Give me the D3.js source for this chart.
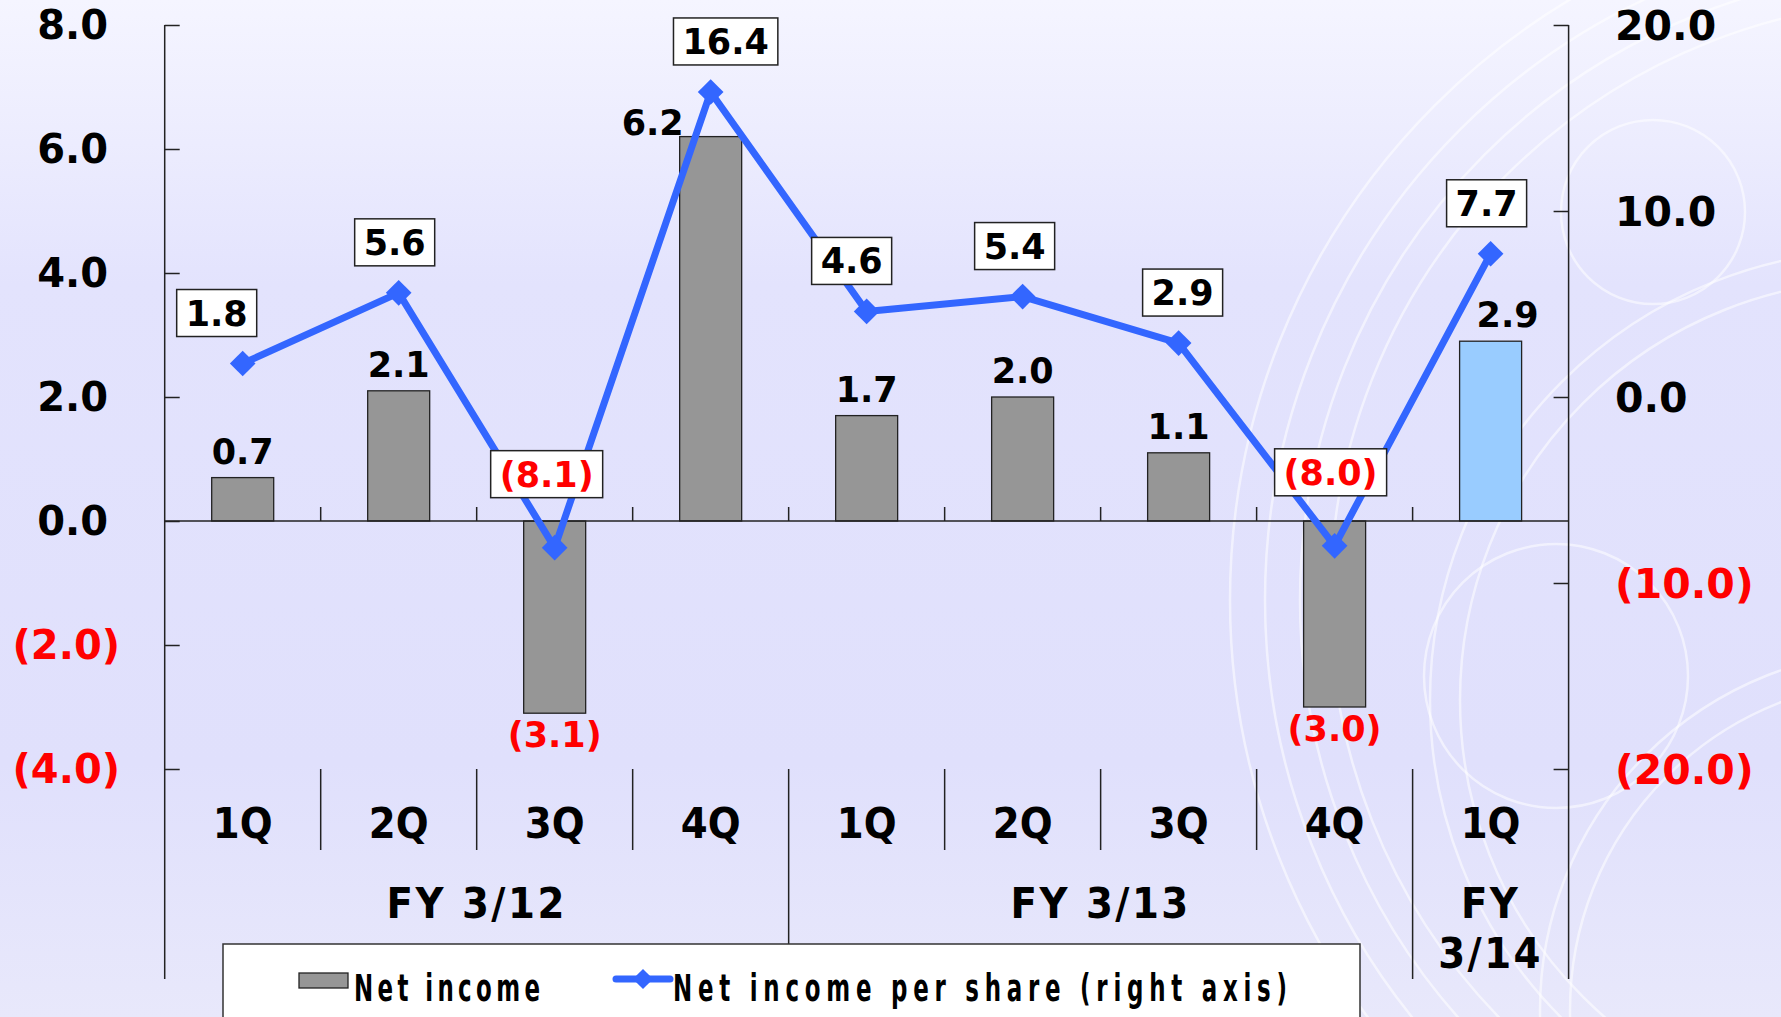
<!DOCTYPE html>
<html lang="en">
<head>
<meta charset="UTF-8"/>
<title>Net income and net income per share</title>
<script src="https://d3js.org/d3.v7.min.js"></script>
<style>
  body { margin: 0; overflow: hidden; }
  svg { display: block; }
</style>
</head>
<body>
<script>
    // quarters and fiscal years
    var quarters = ["1Q", "2Q", "3Q", "4Q", "1Q", "2Q", "3Q", "4Q", "1Q"];
    var fiscalYears = [
        { label: ["FY 3/12"], first: 0, last: 3 },
        { label: ["FY 3/13"], first: 4, last: 7 },
        { label: ["FY", "3/14"], first: 8, last: 8 }
    ];

    // net income (left axis) and net income per share (right axis)
    var netIncome = [0.7, 2.1, -3.1, 6.2, 1.7, 2.0, 1.1, -3.0, 2.9];
    var netIncomePerShare = [1.8, 5.6, -8.1, 16.4, 4.6, 5.4, 2.9, -8.0, 7.7];

    var leftTicks = [-4, -2, 0, 2, 4, 6, 8];
    var rightTicks = [-20, -10, 0, 10, 20];

    var w = 1781, h = 1017;
    var plotL = 164.7, plotR = 1568.6, plotT = 25, plotB = 769;

    var fmt = function(v) {
        var s = Math.abs(v).toFixed(1);
        return v < 0 ? "(" + s + ")" : s;
    };
    var ink = function(v) { return v < 0 ? "#ff0000" : "#000"; };

    var svg = d3.select("body").append("svg")
        .attr("width", w)
        .attr("height", h);

    // background
    var defs = svg.append("defs");
    var grad = defs.append("linearGradient")
        .attr("id", "bg").attr("x1", 0).attr("y1", 0).attr("x2", 0).attr("y2", 1);
    grad.append("stop").attr("offset", "0%").attr("stop-color", "#f5f5ff");
    grad.append("stop").attr("offset", "28%").attr("stop-color", "#e3e3fd");
    grad.append("stop").attr("offset", "75%").attr("stop-color", "#e0e0fc");
    grad.append("stop").attr("offset", "100%").attr("stop-color", "#e8e8fb");
    svg.append("rect").attr("width", w).attr("height", h).attr("fill", "url(#bg)");

    // faint decorative rings on the right
    var rings = [
        [1930, 600, 600], [1930, 600, 630], [1930, 600, 665], [1930, 600, 700],
        [1653, 212, 92], [1556, 676, 132], [1880, 700, 420], [1880, 700, 450],
        [1900, 1010, 330], [1900, 1010, 360]
    ];
    svg.append("g").selectAll("circle")
        .data(rings)
        .enter()
        .append("circle")
        .attr("cx", function(d) { return d[0]; })
        .attr("cy", function(d) { return d[1]; })
        .attr("r", function(d) { return d[2]; })
        .attr("fill", "none")
        .attr("stroke", "#ffffff")
        .attr("stroke-opacity", 0.55)
        .attr("stroke-width", 2.5);

    // scales
    var xScale = d3.scaleBand()
        .domain(d3.range(quarters.length))
        .range([plotL, plotR])
        .paddingInner(0).paddingOuter(0);
    var step = xScale.step();
    var cx = function(i) { return xScale(i) + step / 2; };

    var yLeft = d3.scaleLinear().domain([-4, 8]).range([plotB, plotT]);
    var yRight = d3.scaleLinear().domain([-20, 20]).range([plotB, plotT]);

    var axisInk = "#222";
    var numFont = "DejaVu Sans, Verdana, sans-serif";

    // left axis
    var leftAxis = d3.axisLeft(yLeft)
        .tickValues(leftTicks)
        .tickSize(-15)
        .tickFormat("");
    svg.append("g")
        .attr("transform", "translate(" + plotL + ",0)")
        .call(leftAxis)
        .call(function(g) {
            g.select(".domain").remove();
            g.selectAll("line").attr("stroke", axisInk).attr("stroke-width", 1.5);
        });

    svg.append("g").selectAll("text")
        .data(leftTicks)
        .enter()
        .append("text")
        .attr("x", function(d) { return d < 0 ? 120 : 108; })
        .attr("y", function(d) { return yLeft(d); })
        .attr("dy", "0.36em")
        .attr("text-anchor", "end")
        .attr("font-family", numFont)
        .attr("font-weight", "bold")
        .attr("font-size", "40px")
        .attr("fill", ink)
        .text(fmt);

    // right axis
    var rightAxis = d3.axisRight(yRight)
        .tickValues(rightTicks)
        .tickSize(-15)
        .tickFormat("");
    svg.append("g")
        .attr("transform", "translate(" + plotR + ",0)")
        .call(rightAxis)
        .call(function(g) {
            g.select(".domain").remove();
            g.selectAll("line").attr("stroke", axisInk).attr("stroke-width", 1.5);
        });

    svg.append("g").selectAll("text")
        .data(rightTicks)
        .enter()
        .append("text")
        .attr("x", 1615)
        .attr("y", function(d) { return yRight(d); })
        .attr("dy", "0.36em")
        .attr("text-anchor", "start")
        .attr("font-family", numFont)
        .attr("font-weight", "bold")
        .attr("font-size", "41px")
        .attr("fill", ink)
        .text(fmt);

    // axis lines, run down through the category area
    var y0 = yLeft(0);
    var lines = svg.append("g").attr("stroke", axisInk).attr("stroke-width", 1.5);
    lines.append("line").attr("x1", plotL).attr("x2", plotL).attr("y1", plotT).attr("y2", 979);
    lines.append("line").attr("x1", plotR).attr("x2", plotR).attr("y1", plotT).attr("y2", 979);

    // separators between quarters: short ticks on the zero line and dividers below
    d3.range(1, quarters.length).forEach(function(i) {
        var x = xScale(i);
        lines.append("line").attr("x1", x).attr("x2", x).attr("y1", y0).attr("y2", y0 - 14);
        var yEnd = 850;
        if (i === 4) yEnd = 944;
        if (i === 8) yEnd = 979;
        lines.append("line").attr("x1", x).attr("x2", x).attr("y1", plotB).attr("y2", yEnd);
    });

    // bars
    var barW = 62;
    svg.append("g").selectAll("rect")
        .data(netIncome)
        .enter()
        .append("rect")
        .attr("x", function(d, i) { return cx(i) - barW / 2; })
        .attr("y", function(d) { return yLeft(Math.max(0, d)); })
        .attr("width", barW)
        .attr("height", function(d) { return Math.abs(yLeft(d) - yLeft(0)); })
        .attr("fill", function(d, i) { return i === quarters.length - 1 ? "#99ccff" : "#969696"; })
        .attr("stroke", "#222")
        .attr("stroke-width", 1.3);

    // zero line
    svg.append("line")
        .attr("x1", plotL).attr("x2", plotR).attr("y1", y0).attr("y2", y0)
        .attr("stroke", axisInk).attr("stroke-width", 1.5);

    // bar labels
    var barNudge = [[0, 0], [0, 0], [0, 0], [-58, 12], [0, 0], [0, 0], [0, 0], [0, 0], [17, 0]];
    svg.append("g").selectAll("text")
        .data(netIncome)
        .enter()
        .append("text")
        .attr("x", function(d, i) { return cx(i) + barNudge[i][0]; })
        .attr("y", function(d, i) {
            return (d < 0 ? yLeft(d) + 34 : yLeft(d) - 14) + barNudge[i][1];
        })
        .attr("text-anchor", "middle")
        .attr("font-family", numFont)
        .attr("font-weight", "bold")
        .attr("font-size", "35px")
        .attr("fill", ink)
        .text(fmt);

    // per share line
    var line = d3.line()
        .x(function(d, i) { return cx(i); })
        .y(function(d) { return yRight(d); });
    svg.append("path")
        .datum(netIncomePerShare)
        .attr("d", line)
        .attr("fill", "none")
        .attr("stroke", "#3366ff")
        .attr("stroke-width", 7)
        .attr("stroke-linejoin", "round");

    var diamond = d3.symbol().type(d3.symbolDiamond2).size(420);
    svg.append("g").selectAll("path")
        .data(netIncomePerShare)
        .enter()
        .append("path")
        .attr("d", diamond)
        .attr("transform", function(d, i) { return "translate(" + cx(i) + "," + yRight(d) + ")"; })
        .attr("fill", "#3366ff");

    // boxed labels for per share values
    var epsNudge = [-26, -4, -8, 15, -15, -8, 4, -4, -4];
    var boxes = svg.append("g");
    netIncomePerShare.forEach(function(d, i) {
        var g = boxes.append("g");
        var bx = cx(i) + epsNudge[i];
        var bBottom = yRight(d) - (d < 0 ? 50 : 27);
        var rect = g.append("rect");
        var t = g.append("text")
            .attr("x", bx)
            .attr("y", bBottom - 11)
            .attr("text-anchor", "middle")
            .attr("font-family", numFont)
            .attr("font-weight", "bold")
            .attr("font-size", "35px")
            .attr("fill", ink(d))
            .text(fmt(d));
        var tw = t.node().getComputedTextLength() + 18;
        rect.attr("x", bx - tw / 2)
            .attr("y", bBottom - 47)
            .attr("width", tw)
            .attr("height", 47)
            .attr("fill", "#fff")
            .attr("stroke", "#222")
            .attr("stroke-width", 1.5);
    });

    // category labels
    var catFont = "DejaVu Sans Condensed, DejaVu Sans, sans-serif";
    svg.append("g").selectAll("text")
        .data(quarters)
        .enter()
        .append("text")
        .attr("x", function(d, i) { return cx(i); })
        .attr("y", 838)
        .attr("text-anchor", "middle")
        .attr("font-family", catFont)
        .attr("font-weight", "bold")
        .attr("font-size", "43px")
        .text(function(d) { return d; });

    fiscalYears.forEach(function(fy) {
        var x = (xScale(fy.first) + xScale(fy.last) + step) / 2;
        fy.label.forEach(function(s, k) {
            svg.append("text")
                .attr("x", x)
                .attr("y", 918 + k * 50)
                .attr("text-anchor", "middle")
                .attr("font-family", catFont)
                .attr("font-weight", "bold")
                .attr("font-size", "43px")
                .attr("letter-spacing", "2.5px")
                .text(s);
        });
    });

    // legend
    var legend = svg.append("g");
    legend.append("rect")
        .attr("x", 223).attr("y", 944)
        .attr("width", 1137).attr("height", 100)
        .attr("fill", "#fff")
        .attr("stroke", "#333")
        .attr("stroke-width", 1.5);
    legend.append("rect")
        .attr("x", 299).attr("y", 973)
        .attr("width", 49).attr("height", 15)
        .attr("fill", "#969696")
        .attr("stroke", "#222")
        .attr("stroke-width", 1.3);
    legend.append("line")
        .attr("x1", 616).attr("x2", 670).attr("y1", 979).attr("y2", 979)
        .attr("stroke", "#3366ff").attr("stroke-width", 7).attr("stroke-linecap", "round");
    legend.append("path")
        .attr("d", d3.symbol().type(d3.symbolDiamond2).size(260))
        .attr("transform", "translate(643,979)")
        .attr("fill", "#3366ff");

    // legend texts are tall and narrow with wide spacing
    var squeeze = 0.62;
    var legItems = [
        { x: 354, width: 186, text: "Net income" },
        { x: 673, width: 614, text: "Net income per share (right axis)" }
    ];
    legItems.forEach(function(it) {
        legend.append("text")
            .attr("transform", "translate(" + it.x + ",1001) scale(" + squeeze + ",1)")
            .attr("font-family", "DejaVu Sans, sans-serif")
            .attr("font-weight", "bold")
            .attr("font-size", "37px")
            .attr("textLength", it.width / squeeze)
            .attr("lengthAdjust", "spacing")
            .text(it.text);
    });
</script>
</body>
</html>
